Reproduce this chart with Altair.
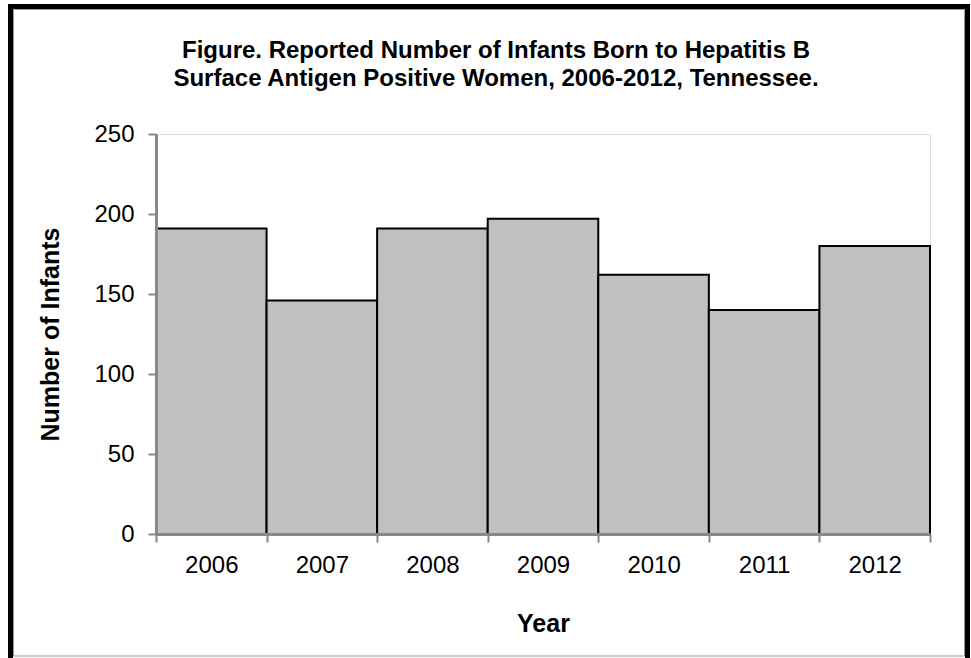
import altair as alt
import pandas as pd

years = ["2006", "2007", "2008", "2009", "2010", "2011", "2012"]
infants = [191, 146, 191, 197, 162, 140, 180]

df = pd.DataFrame({"Year": years, "Infants": infants})

W, H = 774, 400
FONT = "Liberation Sans"

bars = alt.Chart(df).mark_bar(
    color="#C0C0C0", stroke="black", strokeWidth=2
).encode(
    x=alt.X("Year:N", sort=years,
            scale=alt.Scale(paddingInner=0, paddingOuter=0),
            axis=alt.Axis(title="Year", labelAngle=0, tickBand="extent",
                          labelFontSize=24, labelFont=FONT, labelColor="black",
                          labelPadding=11, tickSize=8, tickColor="#888888",
                          tickWidth=2, domainColor="#888888", domainWidth=3,
                          titleFontSize=25, titleFont=FONT, titleFontWeight="bold",
                          titleColor="black", titlePadding=34, zindex=1)),
    y=alt.Y("Infants:Q",
            scale=alt.Scale(domain=[0, 250], nice=False),
            axis=alt.Axis(title="Number of Infants", values=[0, 50, 100, 150, 200, 250],
                          grid=False, labelFontSize=24, labelFont=FONT, labelColor="black",
                          labelPadding=14, tickSize=8, tickColor="#888888",
                          tickWidth=2, domainColor="#888888", domainWidth=3,
                          titleFontSize=25, titleFont=FONT, titleFontWeight="bold",
                          titleColor="black", titlePadding=30, zindex=1)),
)

frame_df = pd.DataFrame({"k": [0]})
frame = alt.Chart(frame_df).mark_rect(
    fillOpacity=0, stroke="black", strokeWidth=5, clip=False
).encode(
    x=alt.value(10.5 - 156), x2=alt.value(967.5 - 156),
    y=alt.value(6.5 - 134), y2=alt.value(661 - 134),
)
inner = alt.Chart(frame_df).mark_rect(
    fillOpacity=0, stroke="#999999", strokeWidth=1, clip=False
).encode(
    x=alt.value(13.5 - 156), x2=alt.value(964.5 - 156),
    y=alt.value(9.5 - 134), y2=alt.value(656 - 134),
)

chart = alt.layer(bars, inner, frame).properties(
    width=W, height=H,
    autosize=alt.AutoSizeParams(type="none"),
    padding={"left": 156, "top": 134, "right": 41, "bottom": 124},
    title=alt.TitleParams(
        text=["Figure. Reported Number of Infants Born to Hepatitis B",
              "Surface Antigen Positive  Women, 2006-2012,  Tennessee."],
        font=FONT, fontSize=24, fontWeight="bold", color="black",
        anchor="middle", dx=-47, offset=-87, lineHeight=28,
    ),
).configure_view(stroke=None).configure(background="white")

chart.save("out.html", embed_options={"renderer": "svg", "actions": False})
